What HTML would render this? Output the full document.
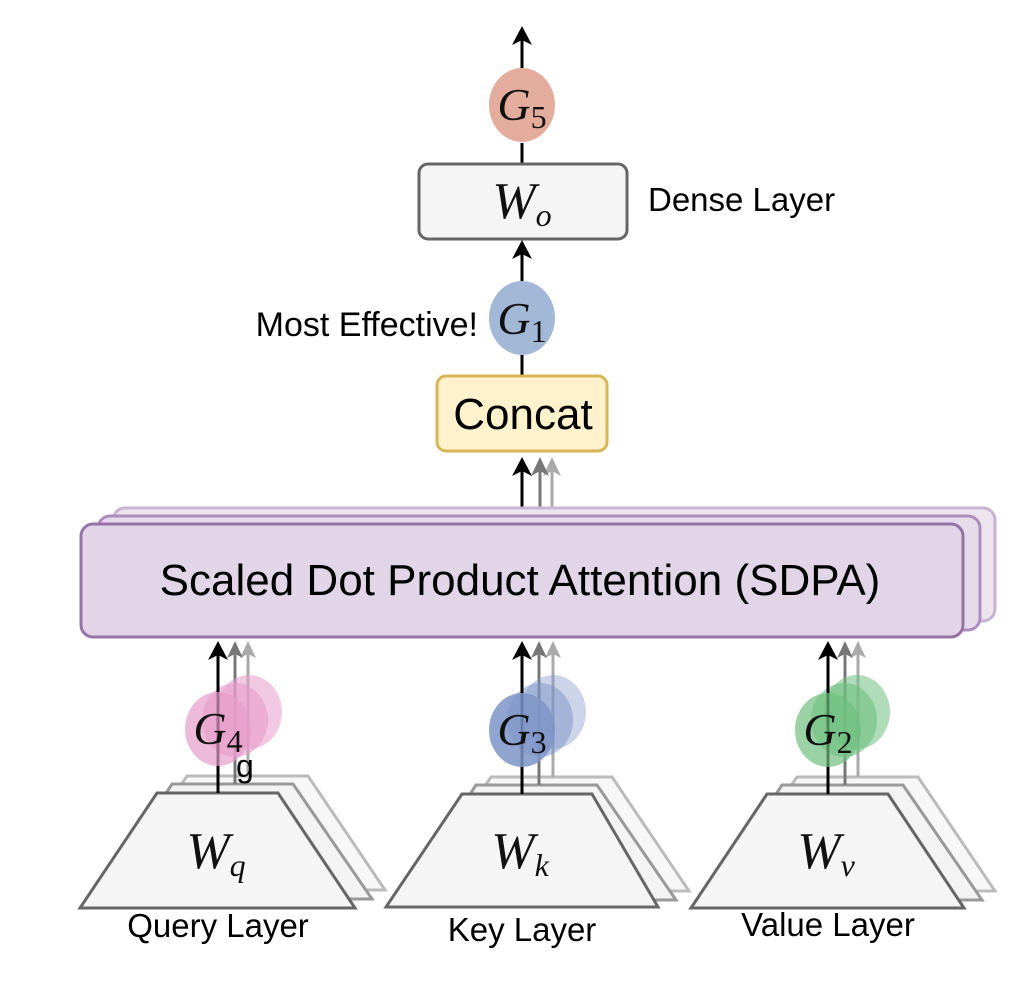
<!DOCTYPE html>
<html><head><meta charset="utf-8"><style>
html,body{margin:0;padding:0;background:#fff;}
svg{display:block;}
.s{font-family:"Liberation Sans",sans-serif;fill:#000;}
.m{font-family:"Liberation Serif",serif;font-style:italic;fill:#111;}
.sub{font-family:"Liberation Serif",serif;font-style:normal;}
</style></head><body>
<svg width="1016" height="990" viewBox="0 0 1016 990" xmlns="http://www.w3.org/2000/svg">
<line x1="522" y1="68" x2="522" y2="40" stroke="#000" stroke-width="3"/>
<path d="M522 26 L512 45 L522 40 L532 45 Z" fill="#000"/>
<ellipse cx="522" cy="105" rx="33" ry="37" fill="#e4ac9c"/>
<text x="522" y="120" class="m" font-size="46" text-anchor="middle">G<tspan class="sub" font-size="32" dy="8">5</tspan></text>
<line x1="522" y1="143" x2="522" y2="163" stroke="#000" stroke-width="3"/>
<rect x="419" y="164" width="208" height="75" rx="9" fill="#f5f5f5" stroke="#666" stroke-width="3"/>
<text x="522" y="218" class="m" font-size="52" text-anchor="middle" fill="#333">W<tspan font-size="32" dy="8">o</tspan></text>
<text x="648" y="211" class="s" font-size="33">Dense Layer</text>
<line x1="522" y1="281" x2="522" y2="253" stroke="#000" stroke-width="3"/>
<path d="M522 240 L512 259 L522 254 L532 259 Z" fill="#000"/>
<ellipse cx="522" cy="318" rx="33" ry="37" fill="#a3b7d6"/>
<text x="522" y="334" class="m" font-size="46" text-anchor="middle">G<tspan class="sub" font-size="32" dy="8">1</tspan></text>
<text x="478" y="336" class="s" font-size="34" text-anchor="end">Most Effective!</text>
<line x1="522" y1="355" x2="522" y2="376" stroke="#000" stroke-width="3"/>
<rect x="437" y="376" width="170" height="75" rx="9" fill="#fff2cc" stroke="#d6b656" stroke-width="3"/>
<text x="523" y="429" class="s" font-size="44" text-anchor="middle">Concat</text>
<line x1="552" y1="508" x2="552" y2="470" stroke="#aaa" stroke-width="3"/>
<path d="M552 457 L543 476 L552 471 L561 476 Z" fill="#aaa"/>
<line x1="540" y1="515" x2="540" y2="470" stroke="#777" stroke-width="3"/>
<path d="M540 457 L531 476 L540 471 L549 476 Z" fill="#777"/>
<line x1="522" y1="524" x2="522" y2="470" stroke="#000" stroke-width="3"/>
<path d="M522 457 L512 476 L522 471 L532 476 Z" fill="#000"/>
<rect x="113" y="508" width="882" height="113" rx="12" fill="#ede4f0" stroke="#c9b3d3" stroke-width="3"/>
<rect x="98" y="516" width="882" height="114" rx="12" fill="#e6dbeb" stroke="#ad8dbd" stroke-width="3"/>
<rect x="81" y="524" width="882" height="113" rx="12" fill="#e1d5e7" stroke="#9673a6" stroke-width="3"/>
<text x="520" y="595" class="s" font-size="44" text-anchor="middle">Scaled Dot Product Attention (SDPA)</text>

<g>
 <polygon points="187,776 308,776 385,890 110,890" fill="#f7f7f7" stroke="#bbb" stroke-width="3"/>
 <polygon points="172,784 293,784 372,899 97,899" fill="#f3f3f3" stroke="#999" stroke-width="3"/>
 <line x1="248" y1="776" x2="248" y2="654" stroke="#aaa" stroke-width="3"/>
 <path d="M248 641 L240 658 L248 654 L256 658 Z" fill="#aaa"/>
 <line x1="235" y1="784" x2="235" y2="654" stroke="#777" stroke-width="3"/>
 <path d="M235 641 L227 658 L235 654 L243 658 Z" fill="#777"/>
 <ellipse cx="249" cy="712" rx="33" ry="37" fill="#e79ccb" opacity="0.55"/>
 <ellipse cx="235" cy="720" rx="33" ry="37" fill="#e79ccb" opacity="0.6"/>
 <polygon points="157,793 278,793 355,908 80,908" fill="#f5f5f5" stroke="#666" stroke-width="3"/>
 <line x1="218" y1="793" x2="218" y2="655" stroke="#000" stroke-width="3"/>
 <path d="M218 641 L208 660 L218 655 L228 660 Z" fill="#000"/>
 <ellipse cx="218" cy="729" rx="33" ry="37" fill="#e79ccb" opacity="0.7"/>
 <text x="218" y="744" class="m" font-size="46" text-anchor="middle">G<tspan class="sub" font-size="32" dy="8">4</tspan></text>
 <text x="236" y="777" class="s" font-size="32">g</text>
 <text x="216" y="868" class="m" font-size="52" text-anchor="middle" fill="#333">W<tspan font-size="32" dy="8">q</tspan></text>
 <text x="218" y="937" class="s" font-size="33" text-anchor="middle">Query Layer</text>
</g>
<g transform="translate(304,1)">
 <polygon points="187,776 308,776 385,890 110,890" fill="#f7f7f7" stroke="#bbb" stroke-width="3"/>
 <polygon points="172,784 293,784 372,899 97,899" fill="#f3f3f3" stroke="#999" stroke-width="3"/>
 <line x1="249" y1="776" x2="249" y2="653" stroke="#aaa" stroke-width="3"/>
 <path d="M249 640 L241 657 L249 653 L257 657 Z" fill="#aaa"/>
 <line x1="235" y1="784" x2="235" y2="653" stroke="#777" stroke-width="3"/>
 <path d="M235 640 L227 657 L235 653 L243 657 Z" fill="#777"/>
 <ellipse cx="249" cy="711" rx="33" ry="37" fill="#7d94c8" opacity="0.4"/>
 <ellipse cx="236" cy="719" rx="33" ry="37" fill="#7d94c8" opacity="0.5"/>
 <polygon points="158,793 288,793 354,906 82,906" fill="#f5f5f5" stroke="#666" stroke-width="3"/>
 <line x1="218" y1="793" x2="218" y2="654" stroke="#000" stroke-width="3"/>
 <path d="M218 640 L208 659 L218 654 L228 659 Z" fill="#000"/>
 <ellipse cx="218" cy="729" rx="33" ry="37" fill="#7d94c8" opacity="0.85"/>
 <text x="218" y="744" class="m" font-size="46" text-anchor="middle">G<tspan class="sub" font-size="32" dy="8">3</tspan></text>
 <text x="216" y="867" class="m" font-size="52" text-anchor="middle" fill="#333">W<tspan font-size="32" dy="8">k</tspan></text>
 <text x="218" y="940" class="s" font-size="33" text-anchor="middle">Key Layer</text>
</g>
<g transform="translate(610,1)">
 <polygon points="187,776 308,776 385,890 110,890" fill="#f7f7f7" stroke="#bbb" stroke-width="3"/>
 <polygon points="172,784 293,784 372,899 97,899" fill="#f3f3f3" stroke="#999" stroke-width="3"/>
 <line x1="248" y1="776" x2="248" y2="653" stroke="#aaa" stroke-width="3"/>
 <path d="M248 640 L240 657 L248 653 L256 657 Z" fill="#aaa"/>
 <line x1="235" y1="784" x2="235" y2="653" stroke="#777" stroke-width="3"/>
 <path d="M235 640 L227 657 L235 653 L243 657 Z" fill="#777"/>
 <ellipse cx="247" cy="711" rx="33" ry="37" fill="#6fbf7f" opacity="0.55"/>
 <ellipse cx="234" cy="719" rx="33" ry="37" fill="#6fbf7f" opacity="0.6"/>
 <polygon points="157,793 278,793 354,907 81,907" fill="#f5f5f5" stroke="#666" stroke-width="3"/>
 <line x1="218" y1="793" x2="218" y2="654" stroke="#000" stroke-width="3"/>
 <path d="M218 640 L208 659 L218 654 L228 659 Z" fill="#000"/>
 <ellipse cx="218" cy="729" rx="33" ry="37" fill="#6fbf7f" opacity="0.7"/>
 <text x="218" y="744" class="m" font-size="46" text-anchor="middle">G<tspan class="sub" font-size="32" dy="8">2</tspan></text>
 <text x="216" y="867" class="m" font-size="52" text-anchor="middle" fill="#333">W<tspan font-size="32" dy="8">v</tspan></text>
 <text x="218" y="935" class="s" font-size="33" text-anchor="middle">Value Layer</text>
</g>
</svg>
</body></html>
